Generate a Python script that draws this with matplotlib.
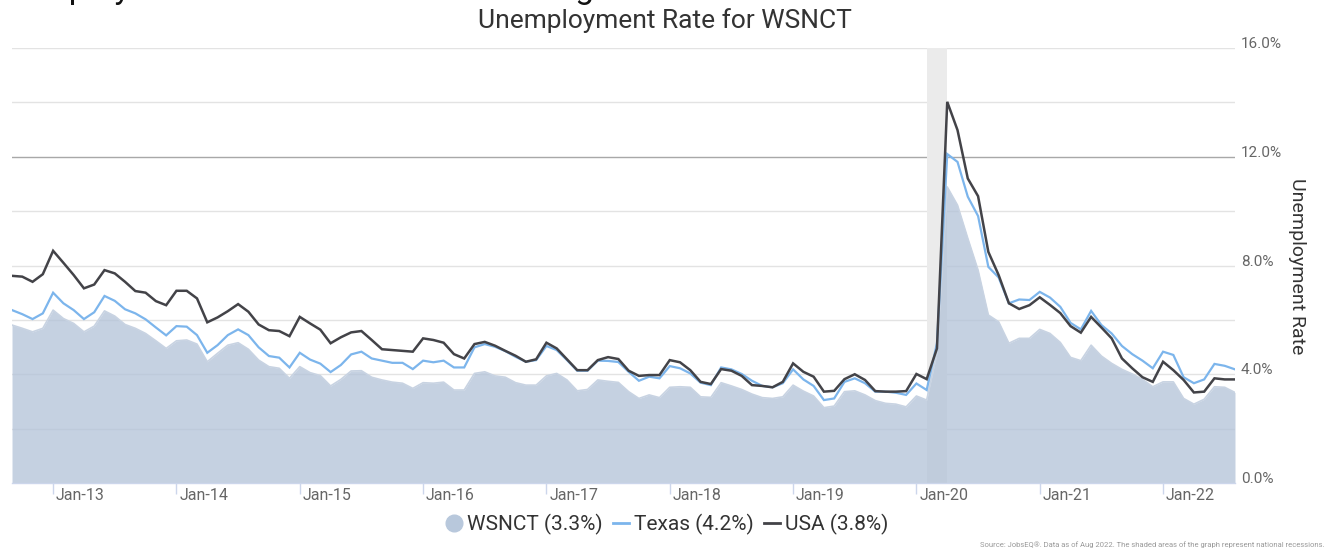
import matplotlib
matplotlib.use("Agg")
import matplotlib.pyplot as plt
from matplotlib.lines import Line2D
from matplotlib.transforms import ScaledTranslation
import pandas as pd
import numpy as np

plt.rcParams['font.family'] = ['Roboto', 'DejaVu Sans']

months = pd.date_range('2012-09-01', periods=120, freq='MS')

usa = [7.62, 7.59, 7.40, 7.68, 8.54, 8.10, 7.65, 7.16, 7.30, 7.83,
       7.71, 7.40, 7.06, 7.00, 6.69, 6.54, 7.07, 7.07, 6.79, 5.91,
       6.09, 6.32, 6.58, 6.30, 5.83, 5.62, 5.59, 5.40, 6.11, 5.87,
       5.64, 5.14, 5.36, 5.54, 5.59, 5.26, 4.92, 4.89, 4.86, 4.83,
       5.32, 5.26, 5.16, 4.74, 4.58, 5.11, 5.19, 5.05, 4.86, 4.68,
       4.46, 4.55, 5.16, 4.95, 4.55, 4.15, 4.15, 4.52, 4.63, 4.56,
       4.13, 3.94, 3.97, 3.97, 4.52, 4.44, 4.15, 3.72, 3.64, 4.19,
       4.13, 3.94, 3.60, 3.57, 3.52, 3.72, 4.40, 4.09, 3.91, 3.36,
       3.39, 3.82, 4.00, 3.79, 3.38, 3.36, 3.36, 3.38, 4.01, 3.82,
       4.95, 14.02, 12.98, 11.20, 10.55, 8.50, 7.65, 6.61, 6.40, 6.54,
       6.83, 6.55, 6.25, 5.77, 5.53, 6.11, 5.72, 5.32, 4.58, 4.22,
       3.89, 3.72, 4.46, 4.15, 3.79, 3.33, 3.36, 3.85, 3.81, 3.81]

texas = [6.36, 6.21, 6.03, 6.24, 7.00, 6.61, 6.36, 6.03, 6.28, 6.88,
         6.70, 6.39, 6.24, 6.02, 5.72, 5.43, 5.77, 5.75, 5.44, 4.79,
         5.07, 5.44, 5.65, 5.44, 4.99, 4.67, 4.61, 4.25, 4.79, 4.54,
         4.39, 4.08, 4.34, 4.73, 4.83, 4.58, 4.50, 4.42, 4.42, 4.19,
         4.50, 4.44, 4.50, 4.25, 4.25, 4.99, 5.11, 5.01, 4.85, 4.64,
         4.46, 4.52, 5.04, 4.89, 4.52, 4.13, 4.13, 4.50, 4.49, 4.45,
         4.09, 3.76, 3.91, 3.85, 4.30, 4.22, 4.03, 3.69, 3.60, 4.25,
         4.18, 4.01, 3.76, 3.57, 3.52, 3.67, 4.18, 3.81, 3.57, 3.05,
         3.11, 3.72, 3.85, 3.67, 3.36, 3.36, 3.32, 3.24, 3.66, 3.42,
         5.14, 12.10, 11.81, 10.53, 9.82, 7.95, 7.56, 6.61, 6.75, 6.73,
         7.03, 6.82, 6.48, 5.89, 5.65, 6.33, 5.81, 5.50, 5.04, 4.74,
         4.50, 4.22, 4.83, 4.71, 3.89, 3.67, 3.81, 4.38, 4.31, 4.18]

wsnct = [5.81, 5.69, 5.56, 5.69, 6.36, 6.05, 5.87, 5.56, 5.77, 6.33,
         6.14, 5.83, 5.69, 5.50, 5.23, 4.95, 5.23, 5.26, 5.11, 4.46,
         4.77, 5.07, 5.16, 4.92, 4.52, 4.28, 4.22, 3.85, 4.28, 4.06,
         3.95, 3.57, 3.81, 4.12, 4.13, 3.89, 3.79, 3.71, 3.67, 3.48,
         3.69, 3.67, 3.71, 3.42, 3.42, 4.03, 4.09, 3.94, 3.89, 3.69,
         3.60, 3.60, 3.94, 4.03, 3.79, 3.39, 3.44, 3.79, 3.74, 3.70,
         3.36, 3.11, 3.24, 3.14, 3.52, 3.54, 3.52, 3.17, 3.15, 3.69,
         3.57, 3.44, 3.27, 3.14, 3.11, 3.17, 3.60, 3.38, 3.20, 2.77,
         2.83, 3.36, 3.39, 3.24, 3.03, 2.93, 2.90, 2.80, 3.20, 3.05,
         4.77, 10.89, 10.22, 9.00, 7.83, 6.18, 5.93, 5.14, 5.32, 5.32,
         5.65, 5.50, 5.17, 4.62, 4.50, 5.07, 4.67, 4.40, 4.18, 4.01,
         3.81, 3.54, 3.72, 3.72, 3.11, 2.90, 3.08, 3.54, 3.52, 3.33]

series_labels = ['WSNCT (3.3%)', 'Texas (4.2%)', 'USA (3.8%)']
y_ticks = [0, 4, 8, 12, 16]
y_ticklabels = ['0.0%', '4.0%', '8.0%', '12.0%', '16.0%']
recession = ('2020-02-01', '2020-04-01')

W, H = 1335, 551
fig = plt.figure(figsize=(W / 100, H / 100), dpi=100)
L, R, T, B = 12, 1235, 48, 483
ax = fig.add_axes([L / W, 1 - B / H, (R - L) / W, (B - T) / H])

x = np.arange(len(months))
ax.set_xlim(0, len(months) - 1)
ax.set_ylim(0, 16)

# grid lines
for g in range(2, 17, 2):
    col = '#a8a8a8' if g == 12 else '#e3e3e3'
    ax.axhline(g, color=col, lw=1.0, zorder=0)

# recession band
r0 = list(months).index(pd.Timestamp(recession[0]))
r1 = list(months).index(pd.Timestamp(recession[1]))
ax.axvspan(r0, r1, color='#ebebeb', lw=0, zorder=0.5)

# area and lines
ax.fill_between(x, 0, wsnct, color='#b2c2d8', alpha=0.75, lw=0, zorder=1)
ax.plot(x, wsnct, color='#c8d3e2', lw=1.2, zorder=1.1)
ax.plot(x, texas, color='#7cb5ec', lw=1.6, zorder=2, solid_joinstyle='miter')
ax.plot(x, usa, color='#434348', lw=1.8, zorder=3, solid_joinstyle='miter')

for s in ax.spines.values():
    s.set_visible(False)
ax.axhline(0, color='#ccd6eb', lw=1.0, zorder=4, clip_on=False)

# x ticks at each January
jan_idx = [i for i, m in enumerate(months) if m.month == 1]
ax.set_xticks(jan_idx)
ax.set_xticklabels([])
ax.tick_params(axis='x', length=8, width=1, color='#ccd6eb', direction='out')
for i in jan_idx:
    ax.text(i, 0, months[i].strftime('%b-%y'), ha='left', va='center',
            fontsize=11.5, color='#666666',
            transform=ax.get_xaxis_transform() + ScaledTranslation(3 / 100, -12 / 100, fig.dpi_scale_trans))

# y ticks on right
ax.set_yticks([])
for v, lab in zip(y_ticks, y_ticklabels):
    ax.text(1, v, lab, ha='left', va='center', fontsize=11, color='#666666',
            transform=ax.get_yaxis_transform() + ScaledTranslation(6 / 100, 4 / 100, fig.dpi_scale_trans))

fig.text(1297 / W, 1 - 266 / H, 'Unemployment Rate', rotation=270, ha='center', va='center',
         fontsize=14, color='#333333')

fig.text(665 / W, 1 - 21 / H, 'Unemployment Rate for WSNCT', ha='center', va='center',
         fontsize=19, color='#333333')

# cropped page heading: only the lowest parts of its letters show at the top edge
fig.text(-18 / W, 1 + 2 / H, 'Unemployment Rates and Trend Tracking', ha='left', va='baseline',
         fontsize=24, color='#111111')

handles = [Line2D([], [], marker='o', linestyle='none', markersize=12,
                  markerfacecolor='#b8c8dc', markeredgecolor='#b8c8dc'),
           Line2D([], [], color='#7cb5ec', lw=2),
           Line2D([], [], color='#434348', lw=2)]
fig.legend(handles, series_labels, loc='center', bbox_to_anchor=(667 / W, 1 - 524 / H),
           ncol=3, frameon=False, fontsize=15, handlelength=0.8, handletextpad=0.2,
           columnspacing=0.5, labelcolor='#333333')

fig.text(1325 / W, 1 - 545 / H,
         'Source: JobsEQ®. Data as of Aug 2022. The shaded areas of the graph represent national recessions.',
         ha='right', va='center', fontsize=5.5, color='#999999')

fig.savefig('out.png', dpi=100)
